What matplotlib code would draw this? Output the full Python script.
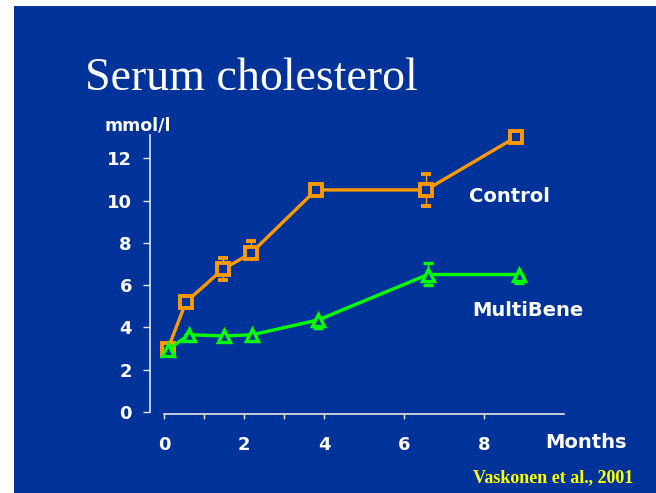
import numpy as np
import matplotlib
matplotlib.use("Agg")
import matplotlib.pyplot as plt
from matplotlib.patches import Rectangle

# Data
control_months = [0.1, 0.55, 1.47, 2.17, 3.8, 6.55, 8.8]
control_chol = [3.0, 5.2, 6.75, 7.5, 10.5, 10.5, 13.0]
control_err_lo = [0.0, 0.0, 0.52, 0.0, 0.0, 0.75, 0.0]
control_err_hi = [0.0, 0.0, 0.52, 0.57, 0.0, 0.75, 0.0]

multibene_months = [0.1, 0.62, 1.5, 2.2, 3.85, 6.6, 8.87]
multibene_chol = [2.95, 3.65, 3.6, 3.65, 4.35, 6.5, 6.5]
multibene_err_lo = [0.0, 0.0, 0.0, 0.0, 0.4, 0.5, 0.42]
multibene_err_hi = [0.0, 0.0, 0.0, 0.0, 0.0, 0.55, 0.0]

xticks = [0, 1, 2, 3, 4, 6, 8]
xticklabels = ["0", "", "2", "", "4", "6", "8"]
yticks = [0, 2, 4, 6, 8, 10, 12]

BG = "#003399"
ORANGE = "#FF9900"
GREEN = "#00FF00"
AXC = "#E6E6E6"
SANS = "DejaVu Sans"

W, H = 656, 493
fig = plt.figure(figsize=(W / 100, H / 100), dpi=100, facecolor="white")

# blue slide background (behind the axes)
fig.patches.append(Rectangle((14 / W, 0), 1 - 14 / W, 1 - 6 / H,
                             transform=fig.transFigure, facecolor=BG,
                             edgecolor="none", zorder=-10))

# axes placed so that x=0 -> 164px, 1 month = 40px; y=0 -> 412px, 1 unit = 21.15px
x0, x1 = -0.6, 10.5
y0, y1 = -0.4, 13.6
left = (164 + x0 * 40) / W
width = (x1 - x0) * 40 / W
bottom = (H - (412 - y0 * 21.15)) / H
height = (y1 - y0) * 21.15 / H
ax = fig.add_axes([left, bottom, width, height])
ax.set_facecolor("none")
ax.set_xlim(x0, x1)
ax.set_ylim(y0, y1)

for sp in ["top", "right"]:
    ax.spines[sp].set_visible(False)
ax.spines["left"].set_position(("data", -0.35))
ax.spines["left"].set_bounds(0, 13.1)
ax.spines["bottom"].set_position(("data", -0.1))
ax.spines["bottom"].set_bounds(0, 10)
for sp in ["left", "bottom"]:
    ax.spines[sp].set_color(AXC)
    ax.spines[sp].set_linewidth(1.2)

ax.set_xticks(xticks)
ax.set_xticklabels(xticklabels)
ax.set_yticks(yticks)
ax.tick_params(axis="y", direction="out", length=5, width=1, color=AXC,
               pad=8, labelcolor="white", labelsize=13)
ax.tick_params(axis="x", direction="out", length=3.5, width=1, color=AXC,
               pad=12, labelcolor="white", labelsize=13)
for lab in ax.get_xticklabels() + ax.get_yticklabels():
    lab.set_fontfamily(SANS)
    lab.set_fontweight("bold")

# series
ax.errorbar(control_months, control_chol,
            yerr=[control_err_lo, control_err_hi], color=ORANGE,
            lw=2.4, elinewidth=1.0, capsize=3.5, capthick=1.2,
            marker="s", ms=8.5, mfc=BG, mec=ORANGE, mew=2.8, zorder=3)
ax.errorbar(multibene_months, multibene_chol,
            yerr=[multibene_err_lo, multibene_err_hi], color=GREEN,
            lw=2.4, elinewidth=1.0, capsize=3.5, capthick=1.2,
            marker="^", ms=9, mfc=BG, mec=GREEN, mew=2.4, zorder=4)

# texts
fig.text(85 / W, 1 - 90 / H, "Serum cholesterol", color="white",
         family="Liberation Serif", fontsize=33, va="baseline", ha="left")
fig.text(105 / W, 1 - 125 / H, "mmol/l", color="white", family=SANS,
         fontweight="bold", fontsize=12.5, va="center", ha="left")
fig.text(469 / W, 1 - 197 / H, "Control", color="white", family=SANS,
         fontweight="bold", fontsize=14, va="center", ha="left")
fig.text(472 / W, 1 - 311 / H, "MultiBene", color="white", family=SANS,
         fontweight="bold", fontsize=14, va="center", ha="left")
fig.text(586 / W, 1 - 443 / H, "Months", color="white", family=SANS,
         fontweight="bold", fontsize=14, va="center", ha="center")
fig.text(633 / W, 1 - 478 / H, "Vaskonen et al., 2001", color="#FFFF00",
         family="Liberation Serif", fontweight="bold", fontsize=13,
         va="center", ha="right")

fig.savefig("out.png", dpi=100, facecolor="white")
